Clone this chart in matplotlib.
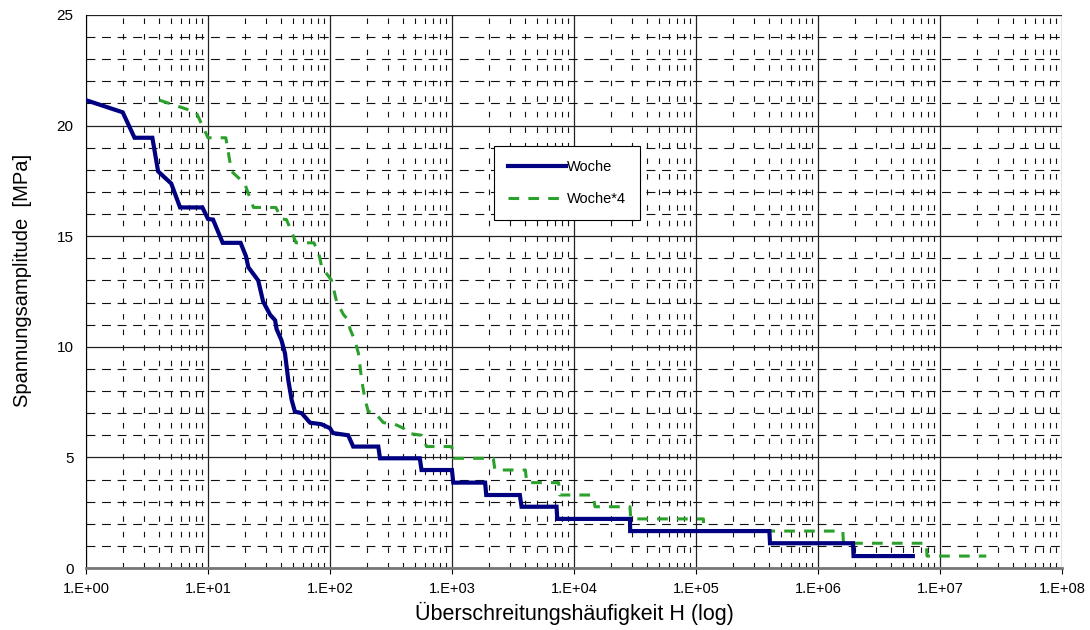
import matplotlib
matplotlib.use('Agg')
import matplotlib.pyplot as plt
from matplotlib.ticker import LogLocator, MultipleLocator, FixedLocator, NullFormatter
import numpy as np

plt.rcParams['font.family'] = ['Liberation Sans', 'DejaVu Sans']

# exceedance frequency (one week) and stress amplitude
H_woche = [1, 2, 2.5, 3.5, 3.9, 5.0, 5.9, 9.0, 10, 11, 13.2, 18.5, 20.5, 21.4,
           25.8, 28.3, 32.3, 35.5, 36.5, 40, 42.8, 45.5, 48.5, 51.6, 58.6,
           68.6, 85, 100, 106, 141, 155, 249, 257, 545, 563, 1000, 1025, 1870,
           1910, 3600, 3720, 7200, 7300, 28800, 28900, 4.0e5, 4.05e5, 1.94e6,
           1.96e6, 6.0e6]
amp_woche = [21.15, 20.6, 19.45, 19.45, 17.93, 17.38, 16.3, 16.3, 15.78, 15.75,
             14.7, 14.7, 14.09, 13.6, 13.0, 12.05, 11.45, 11.2, 10.8, 10.3,
             9.7, 8.5, 7.6, 7.07, 7.0, 6.57, 6.5, 6.32, 6.1, 6.0, 5.49, 5.49,
             4.96, 4.96, 4.43, 4.43, 3.86, 3.86, 3.3, 3.3, 2.77, 2.77, 2.22,
             2.22, 1.67, 1.67, 1.12, 1.12, 0.54, 0.54]
factor = 4  # "Woche*4": four weeks

xticks = [1e0, 1e1, 1e2, 1e3, 1e4, 1e5, 1e6, 1e7, 1e8]
xticklabels = ['1.E+00', '1.E+01', '1.E+02', '1.E+03', '1.E+04',
               '1.E+05', '1.E+06', '1.E+07', '1.E+08']
yticks = [0, 5, 10, 15, 20, 25]

fig = plt.figure(figsize=(10.9, 6.3), dpi=100)
ax = fig.add_axes([0.0789, 0.0984, 0.8953, 0.8778])

ax.plot(H_woche, amp_woche, color='#000080', lw=3.0, label='Woche',
        solid_joinstyle='miter', zorder=4)
ax.plot(np.array(H_woche) * factor, amp_woche, color='#2ca02c', lw=2.2,
        dashes=(3.5, 3.0), label='Woche*4', zorder=3)

ax.set_xscale('log')
ax.set_xlim(1, 1e8)
ax.set_ylim(0, 25)
ax.xaxis.set_major_locator(FixedLocator(xticks))
ax.set_xticks(xticks)
ax.set_xticklabels(xticklabels, fontsize=10.5)
ax.xaxis.set_minor_locator(LogLocator(base=10, subs=np.arange(2, 10)))
ax.xaxis.set_minor_formatter(NullFormatter())
ax.set_yticks(yticks)
ax.set_yticklabels([str(v) for v in yticks], fontsize=11)
ax.yaxis.set_minor_locator(MultipleLocator(1))

ax.tick_params(axis='x', which='major', direction='out', length=4, pad=6)
ax.tick_params(axis='x', which='minor', length=0)
ax.tick_params(axis='y', which='both', length=0, pad=9)

ax.xaxis.grid(True, which='major', color='#222222', lw=0.9, ls='-')
ax.yaxis.grid(True, which='major', color='#222222', lw=0.9, ls='-')
ax.xaxis.grid(True, which='minor', color='#111111', lw=0.8, dashes=(5, 9))
ax.yaxis.grid(True, which='minor', color='#111111', lw=0.8, dashes=(8, 6))
ax.set_axisbelow(True)

for s in ['top', 'right']:
    ax.spines[s].set_visible(False)
ax.spines['left'].set_color('black')
ax.spines['bottom'].set_color('#777777')
ax.spines['bottom'].set_linewidth(2.0)

ax.set_xlabel('Überschreitungshäufigkeit H (log)', fontsize=15.5)
ax.xaxis.set_label_coords(0.5, -0.061)
ax.set_ylabel('Spannungsamplitude  [MPa]', fontsize=14.5)
ax.yaxis.set_label_coords(-0.055, 0.52)

leg = ax.legend(loc='upper left', bbox_to_anchor=(0.418, 0.763), fontsize=10.5,
                frameon=True, fancybox=False, framealpha=1, edgecolor='black',
                handlelength=4.0, handletextpad=0.05, labelspacing=1.25,
                borderpad=0.95, borderaxespad=0)
leg.get_frame().set_linewidth(0.8)

fig.savefig('out.png', dpi=100)
